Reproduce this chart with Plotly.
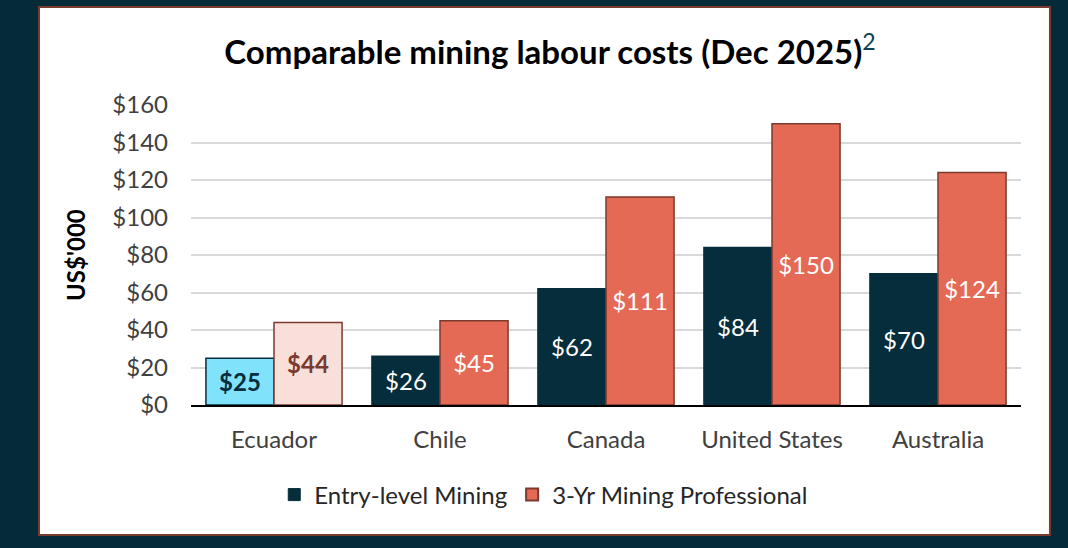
import plotly.graph_objects as go

countries = ["Ecuador", "Chile", "Canada", "United States", "Australia"]
entry_level = [25, 26, 62, 84, 70]
professional = [44, 45, 111, 150, 124]
y_ticks = [0, 20, 40, 60, 80, 100, 120, 140, 160]

dark = "#062d3b"
coral = "#e46a56"
brown = "#7b3a2e"
font = "Lato, 'Open Sans', sans-serif"

# Ecuador is highlighted in lighter colours with bold labels
entry_colors = ["#80e2fb"] + [dark] * 4
prof_colors = ["#f8dfda"] + [coral] * 4
entry_text = ["<b>$%d</b>" % v if i == 0 else "$%d" % v for i, v in enumerate(entry_level)]
prof_text = ["<b>$%d</b>" % v if i == 0 else "$%d" % v for i, v in enumerate(professional)]
entry_font = [dark] + ["white"] * 4
prof_font = [brown] + ["white"] * 4

fig = go.Figure()
fig.add_trace(go.Bar(
    x=countries, y=entry_level, name="Entry-level Mining", showlegend=False,
    marker=dict(color=entry_colors, line=dict(color=dark, width=1.5)),
    text=entry_text, textposition="inside", insidetextanchor="middle",
    textfont=dict(color=entry_font, size=24, family=font), textangle=0,
))
fig.add_trace(go.Bar(
    x=countries, y=professional, name="3-Yr Mining Professional", showlegend=False,
    marker=dict(color=prof_colors, line=dict(color=brown, width=1.5)),
    text=prof_text, textposition="inside", insidetextanchor="middle",
    textfont=dict(color=prof_font, size=24, family=font), textangle=0,
))
# legend entries in the normal series colours (hidden axes so they don't affect grouping)
fig.add_trace(go.Bar(x=[None], y=[None], name="Entry-level Mining",
                     marker=dict(color=dark, line=dict(color=dark, width=1)),
                     xaxis="x2", yaxis="y2"))
fig.add_trace(go.Bar(x=[None], y=[None], name="3-Yr Mining Professional",
                     marker=dict(color=coral, line=dict(color=brown, width=2)),
                     xaxis="x2", yaxis="y2"))

fig.update_layout(
    width=1068, height=548,
    margin=dict(l=191, r=47, t=105, b=143),
    paper_bgcolor="#062b38", plot_bgcolor="rgba(0,0,0,0)",
    font=dict(family=font, size=24, color="#404040"),
    barmode="group", bargap=0.18, bargroupgap=0,
    title=dict(
        text="<b>Comparable mining labour costs (Dec 2025)</b><span style='color:#0d3f52'><sup>2</sup></span>",
        x=0.515, xref="container", xanchor="center",
        y=0.905, yref="container", yanchor="middle",
        font=dict(size=33, color="black", family=font),
    ),
    legend=dict(
        orientation="h", x=0.425, xanchor="center", y=-0.3, yanchor="middle",
        font=dict(size=24, color="#262626"), bgcolor="rgba(0,0,0,0)",
        traceorder="normal", itemwidth=30,
    ),
    showlegend=True,
    xaxis2=dict(overlaying="x", visible=False),
    yaxis2=dict(overlaying="y", visible=False),
)
fig.update_yaxes(
    range=[0, 160], tickvals=y_ticks, ticktext=["$%d" % v for v in y_ticks],
    showgrid=True, gridcolor="#d9d9d9", gridwidth=2,
    zeroline=False, showline=False, ticklabelstandoff=22,
    tickfont=dict(size=24, color="#404040"), selector=dict(overlaying=None),
)
fig.update_layout(yaxis=dict(range=[0, 160]))
fig.update_xaxes(
    showline=True, linecolor="black", linewidth=2,
    tickfont=dict(size=24, color="#404040"), ticklabelstandoff=12,
    selector=dict(overlaying=None),
)

# white panel with a thin brown border on the dark background
fig.add_shape(type="rect", xref="paper", yref="paper",
              x0=-0.1831, x1=1.0349, y0=-0.4333, y1=1.3267,
              fillcolor="white", line=dict(color=brown, width=2), layer="below")

fig.add_annotation(text="<b>US$'000</b>", xref="paper", yref="paper",
                   x=-0.1398, y=0.5, xanchor="center", yanchor="middle",
                   textangle=-90, showarrow=False,
                   font=dict(size=24, color="black"))

fig.write_html("out.html", config={"displayModeBar": False},
               post_script="document.body.style.margin='0';")
